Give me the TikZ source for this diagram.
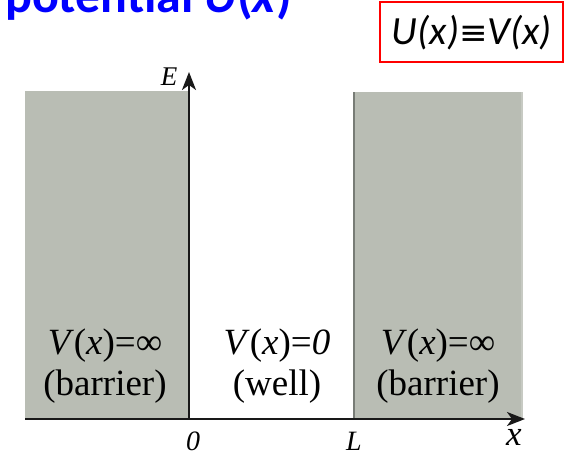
\documentclass[tikz,border=0pt]{standalone}
\usepackage{fontspec}
\setmainfont{Liberation Serif}
\newfontfamily\calibrifont{Carlito}
\newfontfamily\dejavufont{DejaVu Sans}
\usetikzlibrary{arrows.meta}
\definecolor{barriergray}{RGB}{185,189,180}
\definecolor{edgegray}{RGB}{120,124,118}
\definecolor{titleblue}{RGB}{0,0,255}
\definecolor{boxred}{RGB}{255,0,0}
\tikzset{
  axisline/.style={line width=2.4pt, draw=black!90, -{Stealth[length=18pt,width=14pt,inset=5pt]}},
  barrier/.style={fill=barriergray, draw=none},
  regionlabel/.style={anchor=base, inner sep=0pt, font=\fontsize{37}{40}\selectfont},
  ticklabel/.style={anchor=center, inner sep=0pt, font=\fontsize{28}{30}\selectfont\itshape},
}
\begin{document}
\begin{tikzpicture}[x=1pt,y=-1pt]
\useasboundingbox (0,0) rectangle (565,456);
% barriers
\fill[barrier] (25,91) rectangle (189,419);
\fill[barrier] (353,92) rectangle (523,419);
\draw[edgegray, line width=2pt] (354,92) -- (354,419);
\draw[barriergray!80!white, line width=2pt] (522,92) -- (522,419);
% axes
\coordinate (O) at (189,419);
\coordinate (Etip) at (189,72);
\coordinate (xstart) at (25,419);
\coordinate (xtip) at (525,419);
\draw[axisline] (O) -- (Etip);
\draw[axisline] (xstart) -- (xtip);
% axis labels
\node[ticklabel, font=\fontsize{27}{28}\selectfont\itshape] (Elabel) at (169,77) {E};
\node[ticklabel] (zero) at (193,441) {0};
\node[ticklabel] (Llabel) at (354,441) {L};
\node[ticklabel, font=\fontsize{35}{36}\selectfont\itshape] (xlabel) at (514,437) {x};
% region labels
\node[regionlabel] (lv) at (105,354) {\textit{V}(\textit{x})=∞};
\node[regionlabel] (lb) at (105,395) {(barrier)};
\node[regionlabel] (mv) at (277,354) {\textit{V}(\textit{x})=\textit{0}};
\node[regionlabel] (mb) at (277,395) {(well)};
\node[regionlabel] (rv) at (438,354) {\textit{V}(\textit{x})=∞};
\node[regionlabel] (rb) at (438,395) {(barrier)};
% title
\node[anchor=base west, inner sep=0pt, text=titleblue, font=\calibrifont\bfseries\fontsize{50}{52}\selectfont] (title) at (5,12) {potential \textit{U}(\textit{x})};
% red box
\draw[boxred, line width=2pt] (380,2) rectangle (563,62);
\node[anchor=base, inner sep=0pt, font=\calibrifont\itshape\fontsize{40}{42}\selectfont] (eq) at (472,44) {U(x){\dejavufont\upshape\fontsize{34}{36}\selectfont ≡}V(x)};
\end{tikzpicture}
\end{document}
